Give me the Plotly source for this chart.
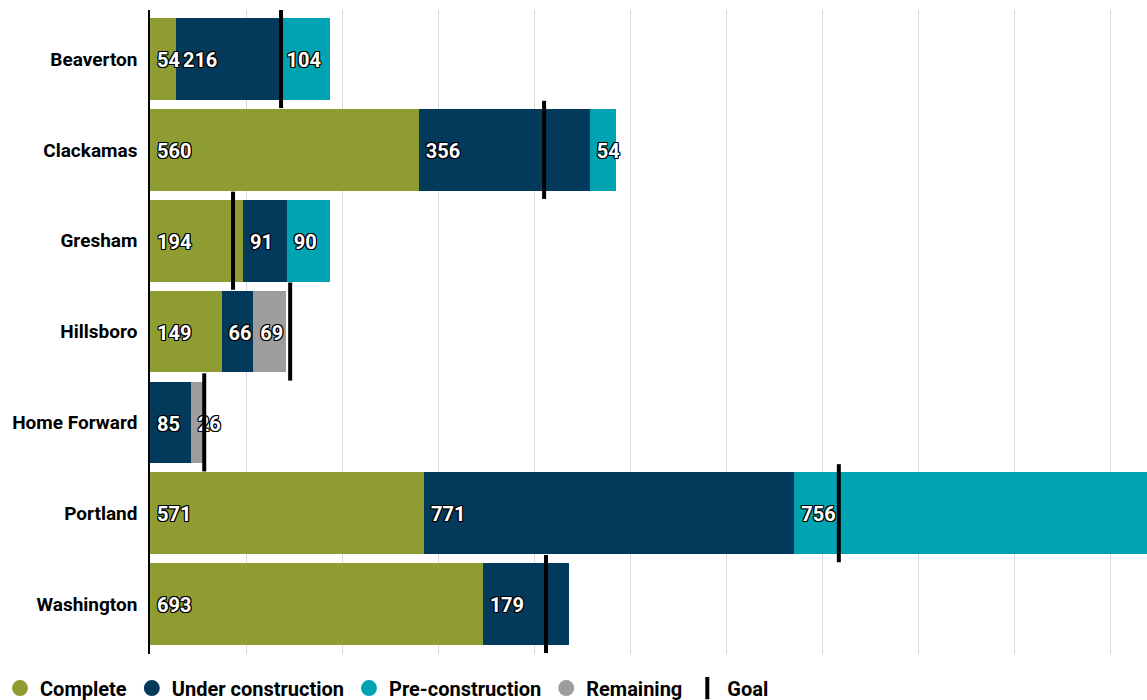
import plotly.graph_objects as go

categories = ["Beaverton", "Clackamas", "Gresham", "Hillsboro", "Home Forward", "Portland", "Washington"]
complete = [54, 560, 194, 149, 0, 571, 693]
under_construction = [216, 356, 91, 66, 85, 771, 179]
pre_construction = [104, 54, 90, 0, 0, 756, 0]
remaining = [0, 0, 0, 69, 26, 0, 0]
goal = [273, 821, 173, 292, 113, 1435, 825]

series = [
    ("Complete", complete, "#8E9C32"),
    ("Under construction", under_construction, "#03395A"),
    ("Pre-construction", pre_construction, "#00A3B2"),
    ("Remaining", remaining, "#9D9D9D"),
]

LABEL_FONT = "Roboto, sans-serif"
TICK_FONT = "Roboto, Liberation Sans, sans-serif"
shadow = "1px 1px 0 #000, -1px -1px 0 #000, 1px -1px 0 #000, -1px 1px 0 #000, 0 1px 0 #000, 0 -1px 0 #000, 1px 0 0 #000, -1px 0 0 #000"
X_MAX = 2077
PLOT_W = 997
LABEL_PAD = 7 * X_MAX / PLOT_W   # 7 px padding expressed in axis units
LABEL_DY = 0.035

ypos = list(range(len(categories)))
fig = go.Figure()
for name, vals, color in series:
    fig.add_trace(go.Bar(
        y=ypos, x=vals, orientation="h", name=name,
        marker=dict(color=color, line=dict(width=0)),
        width=0.9, showlegend=False, hoverinfo="skip",
    ))

# value labels on top of all bars, starting at each segment's left edge
lx, ly, lt = [], [], []
base = [0] * len(categories)
for name, vals, color in series:
    for i, v in enumerate(vals):
        if v:
            lx.append(base[i] + LABEL_PAD)
            ly.append(i + LABEL_DY)
            lt.append(str(v))
        base[i] += v
fig.add_trace(go.Scatter(
    x=lx, y=ly, text=lt, mode="text", textposition="middle right",
    textfont=dict(family=LABEL_FONT, size=20, color="white", weight="bold", shadow=shadow),
    showlegend=False, hoverinfo="skip", cliponaxis=False,
))

# goal markers
gx, gy = [], []
for i, g in enumerate(goal):
    gx += [g, g, None]
    gy += [i - 0.54, i + 0.54, None]
fig.add_trace(go.Scatter(x=gx, y=gy, mode="lines", line=dict(color="black", width=4),
                         showlegend=False, hoverinfo="skip"))

# legend entries
for name, vals, color in series:
    fig.add_trace(go.Scatter(x=[None], y=[None], mode="markers", name=name,
                             marker=dict(symbol="circle", size=20, color=color)))
fig.add_trace(go.Scatter(x=[None], y=[None], mode="markers", name="Goal",
                         marker=dict(symbol="line-ns", size=16, line=dict(width=4, color="black"))))

fig.update_layout(
    barmode="stack",
    width=1147, height=700,
    margin=dict(l=150, r=0, t=10, b=46),
    plot_bgcolor="white", paper_bgcolor="white",
    xaxis=dict(range=[0, X_MAX], dtick=200, showgrid=True, gridcolor="#d9d9d9", gridwidth=1,
               showticklabels=False, zeroline=False, showline=False, fixedrange=True),
    yaxis=dict(range=[6.55, -0.54], tickmode="array", tickvals=ypos, ticktext=categories,
               showgrid=False, zeroline=False, showline=True, linecolor="black", linewidth=1.5,
               ticks="", ticklabelstandoff=7,
               tickfont=dict(family=TICK_FONT, size=19, color="black", weight="bold")),
    legend=dict(orientation="h", xref="container", yref="container", x=0.0, xanchor="left",
                y=0.017, yanchor="middle", font=dict(family=LABEL_FONT, size=20, color="black", weight="bold"),
                itemclick=False, itemdoubleclick=False, traceorder="normal"),
    showlegend=True,
)

fig.write_html("out.html")
